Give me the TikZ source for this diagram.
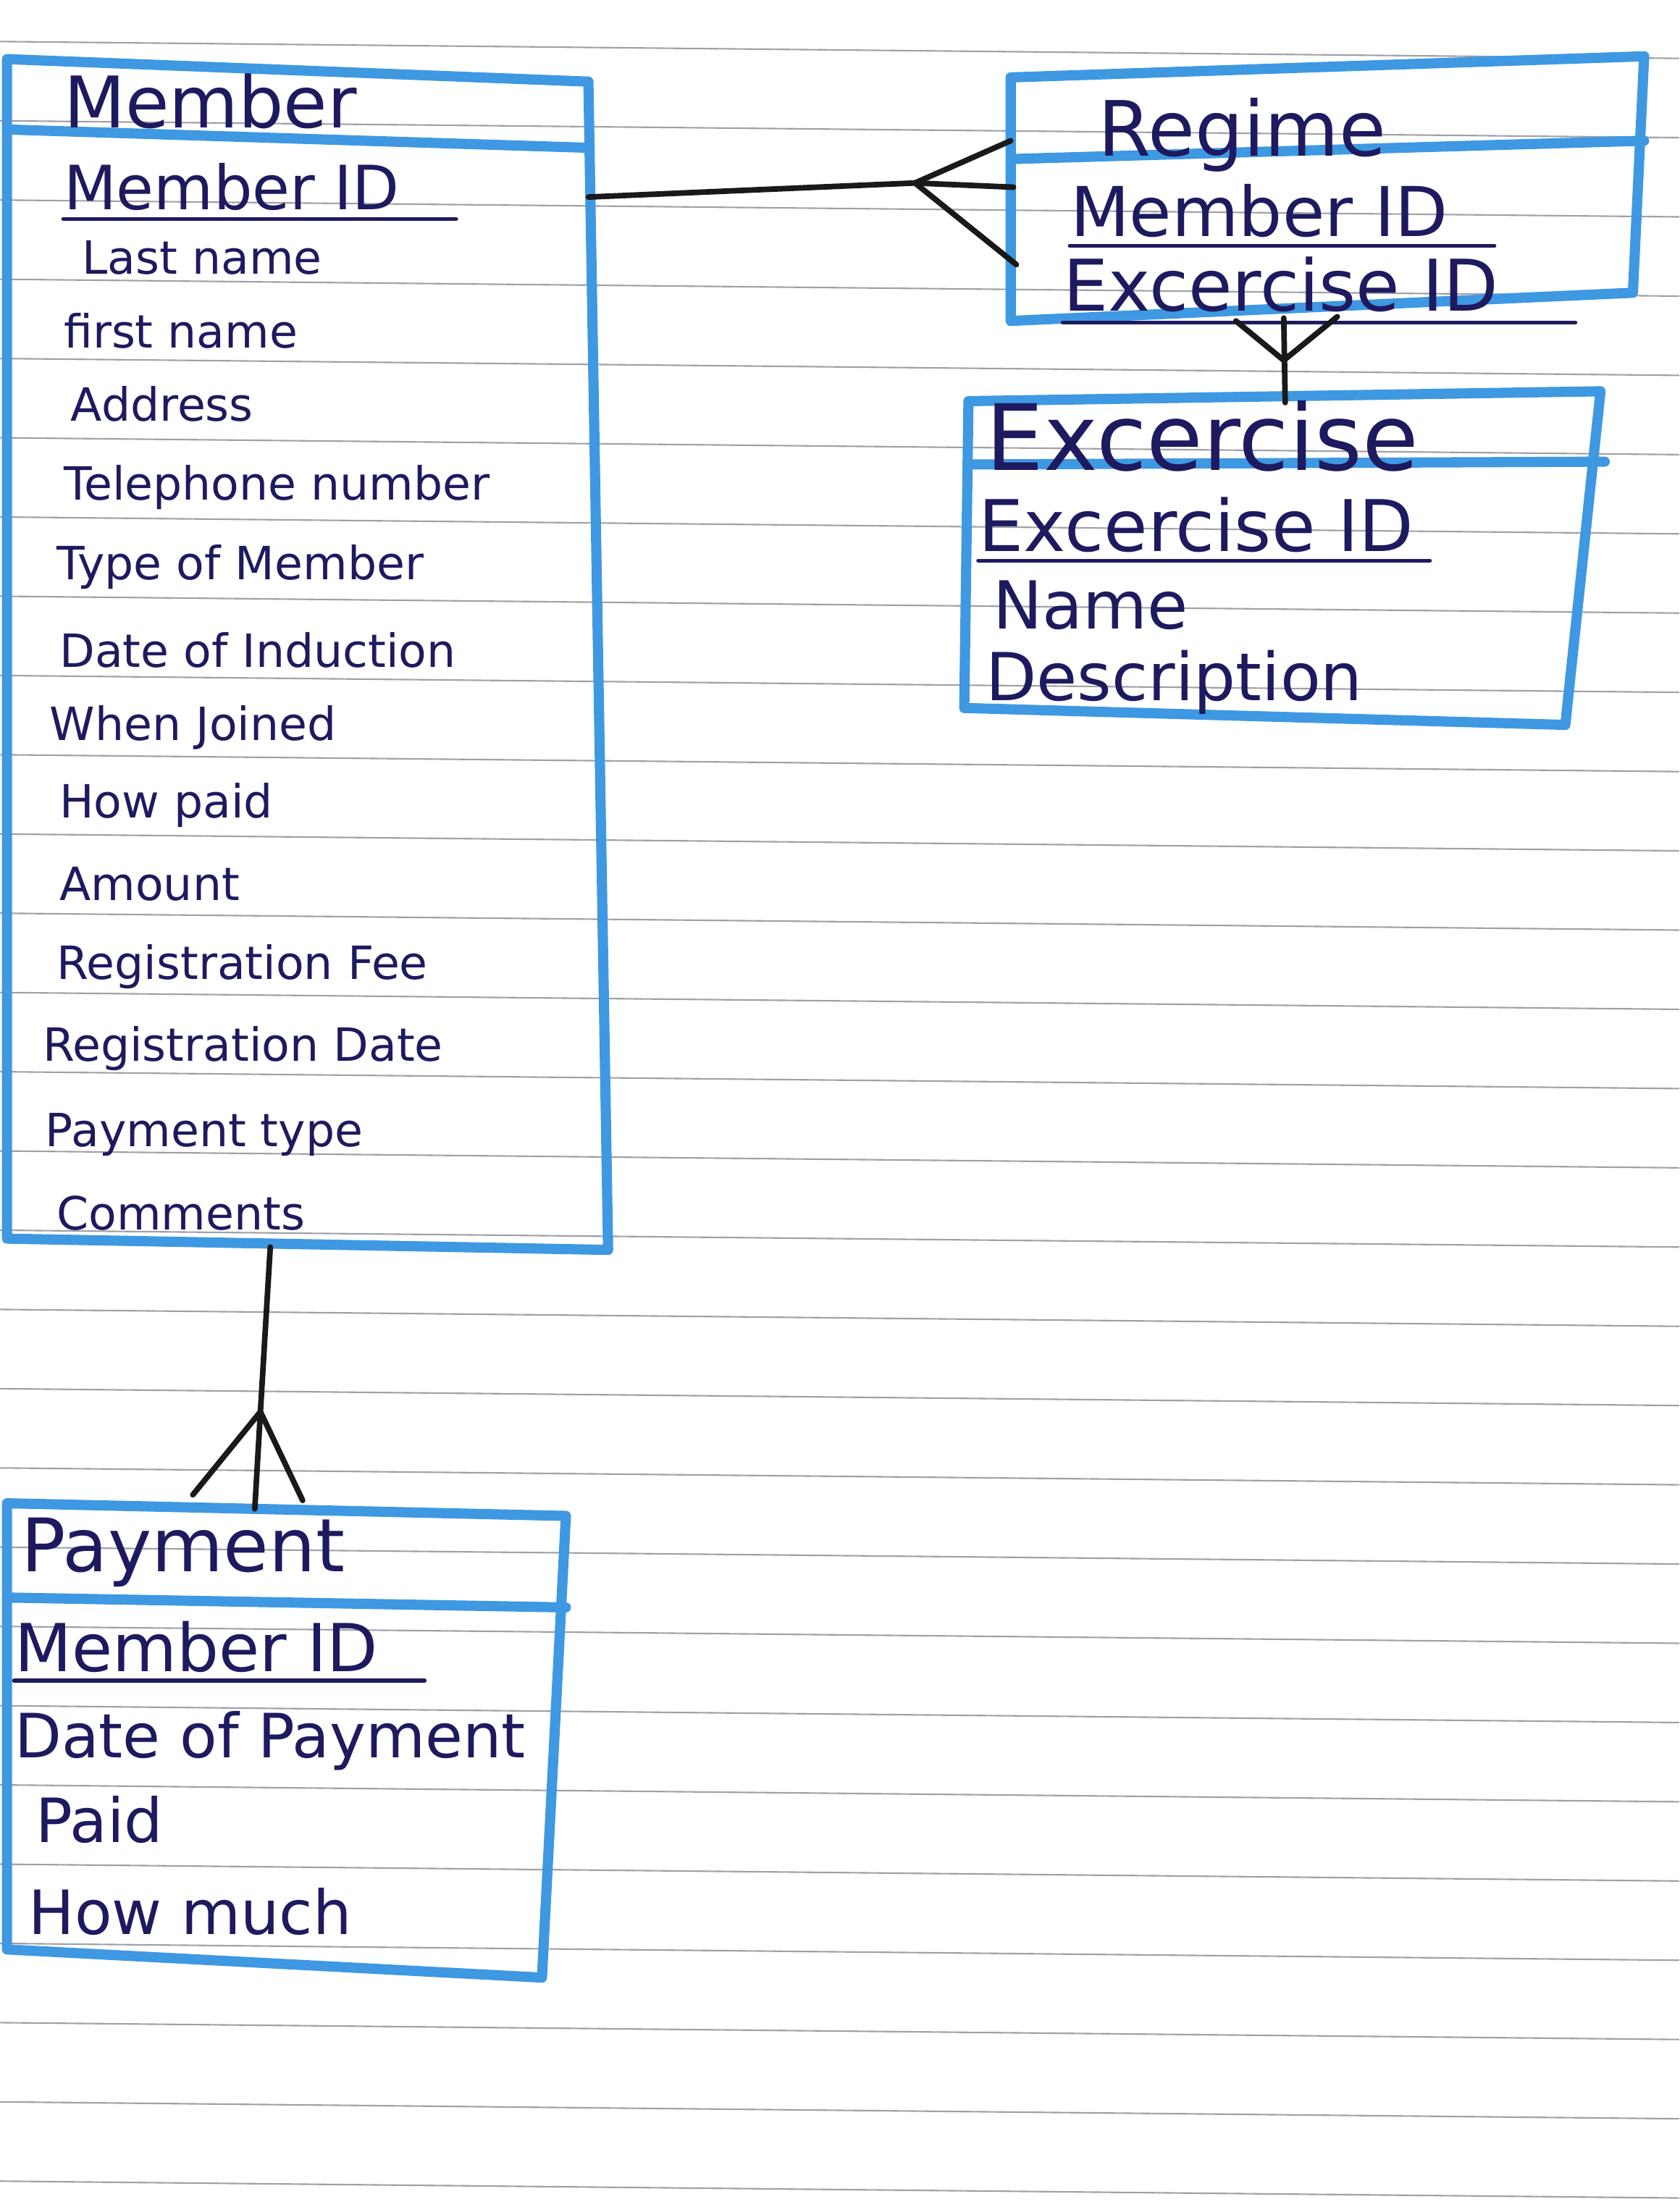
\documentclass[tikz,border=0pt]{standalone}
\usepackage{fontspec}
\setmainfont{DejaVu Sans}

\definecolor{marker}{RGB}{62,152,226}
\definecolor{ink}{RGB}{30,26,96}
\definecolor{paper}{RGB}{160,160,166}

\tikzset{
  box/.style={draw=marker, line width=4pt, line join=round, line cap=round},
  attr/.style={anchor=west, inner sep=0pt, text=ink, font=\fontsize{#1}{#1}\selectfont},
  attr/.default=18,
  uline/.style={draw=ink, line width=1.6pt, line cap=round},
  rel/.style={draw=black!90, line width=2.2pt, line cap=round, line join=round},
  rule/.style={draw=paper, line width=0.6pt}
}

\begin{document}
\begin{tikzpicture}[x=0.019447cm, y=-0.019447cm]
  \useasboundingbox (0,0) rectangle (1193,1568);
  \fill[white] (0,0) rectangle (1193,1568);

  % Ruled paper
  \foreach \k in {-5,...,22}
    \draw[rule] (0,{311+56.3*\k}) -- (1193,{323+56.3*\k});

  % Corners
  \coordinate (mTL) at (5,42);
  \coordinate (mTR) at (418,58);
  \coordinate (mBR) at (432,888);
  \coordinate (mBL) at (5,880);
  \coordinate (mHL) at (5,92);
  \coordinate (mHR) at (418,105);

  \coordinate (rTL) at (718,55);
  \coordinate (rTR) at (1168,40);
  \coordinate (rBR) at (1160,208);
  \coordinate (rBL) at (718,228);
  \coordinate (rHL) at (718,113);
  \coordinate (rHR) at (1168,100);

  \coordinate (eTL) at (688,285);
  \coordinate (eTR) at (1137,278);
  \coordinate (eBR) at (1112,515);
  \coordinate (eBL) at (685,503);
  \coordinate (eHL) at (688,330);
  \coordinate (eHR) at (1140,328);

  \coordinate (pTL) at (5,1068);
  \coordinate (pTR) at (402,1077);
  \coordinate (pBR) at (385,1405);
  \coordinate (pBL) at (5,1385);
  \coordinate (pHL) at (5,1135);
  \coordinate (pHR) at (402,1142);

  % Boxes
  \draw[box] (mTL) -- (mTR) -- (mBR) -- (mBL) -- cycle;
  \draw[box] (mHL) -- (mHR);
  \draw[box] (rTL) -- (rTR) -- (rBR) -- (rBL) -- cycle;
  \draw[box] (rHL) -- (rHR);
  \draw[box] (eTL) -- (eTR) -- (eBR) -- (eBL) -- cycle;
  \draw[box] (eHL) -- (eHR);
  \draw[box] (pTL) -- (pTR) -- (pBR) -- (pBL) -- cycle;
  \draw[box] (pHL) -- (pHR);

  % Member
  \node[attr=28] (member) at (45,72) {Member};
  \node[attr=24] (memid) at (45,133) {Member ID};
  \node[attr] (lastname) at (58,183) {Last name};
  \node[attr] (firstname) at (45,235) {first name};
  \node[attr] (address) at (50,287) {Address};
  \node[attr] (phone) at (45,346) {Telephone number};
  \node[attr] (mtype) at (40,403) {Type of Member};
  \node[attr] (induct) at (42,462) {Date of Induction};
  \node[attr] (joined) at (35,517) {When Joined};
  \node[attr] (howpaid) at (42,572) {How paid};
  \node[attr] (amount) at (42,628) {Amount};
  \node[attr] (regfee) at (40,687) {Registration Fee};
  \node[attr] (regdate) at (30,745) {Registration Date};
  \node[attr] (paytype) at (32,806) {Payment type};
  \node[attr] (comments) at (40,862) {Comments};

  % Regime
  \node[attr=30] (regime) at (780,96) {Regime};
  \node[attr=27] (regmem) at (760,150) {Member ID};
  \node[attr=28] (regex) at (755,202) {Excercise ID};

  % Excercise
  \node[attr=36] (excercise) at (700,310) {Excercise};
  \node[attr=28] (exid) at (695,373) {Excercise ID};
  \node[attr=26] (exname) at (705,430) {Name};
  \node[attr=26] (exdesc) at (700,485) {Description};

  % Payment
  \node[attr=29] (payment) at (15,1103) {Payment};
  \node[attr=26] (paymem) at (10,1170) {Member ID};
  \node[attr=24] (paydate) at (10,1237) {Date of Payment};
  \node[attr=24] (paid) at (25,1293) {Paid};
  \node[attr=24] (howmuch) at (20,1358) {How much};

  % Keys
  \draw[uline] ([yshift=-3pt]memid.south west) -- ([xshift=22pt,yshift=-3pt]memid.south east);
  \draw[uline] ([yshift=-3pt]regmem.south west) -- ([xshift=18pt,yshift=-3pt]regmem.south east);
  \draw[uline] ([yshift=-4pt]regex.south west) -- ([xshift=30pt,yshift=-4pt]regex.south east);
  \draw[uline] ([yshift=-3pt]exid.south west) -- ([xshift=6pt,yshift=-3pt]exid.south east);
  \draw[uline] ([yshift=-3pt]paymem.south west) -- ([xshift=18pt,yshift=-3pt]paymem.south east);

  % Member to Regime
  \coordinate (mR) at (418,140);
  \coordinate (rfoot) at (650,130);
  \coordinate (rA) at (718,100);
  \coordinate (rB) at (720,133);
  \coordinate (rC) at (722,188);
  \draw[rel] (mR) -- (rfoot) -- (rB);
  \draw[rel] (rA) -- (rfoot) -- (rC);

  % Regime to Excercise
  \coordinate (rBot) at (912,226);
  \coordinate (eTop) at (913,286);
  \coordinate (efoot) at (912,256);
  \coordinate (rP1) at (878,228);
  \coordinate (rP2) at (950,225);
  \draw[rel] (rBot) -- (eTop);
  \draw[rel] (rP1) -- (efoot) -- (rP2);

  % Member to Payment
  \coordinate (mBot) at (192,886);
  \coordinate (pfoot) at (185,1003);
  \coordinate (pTop) at (181,1072);
  \coordinate (pP1) at (137,1062);
  \coordinate (pP2) at (215,1066);
  \draw[rel] (mBot) -- (pfoot) -- (pTop);
  \draw[rel] (pP1) -- (pfoot) -- (pP2);
\end{tikzpicture}
\end{document}
